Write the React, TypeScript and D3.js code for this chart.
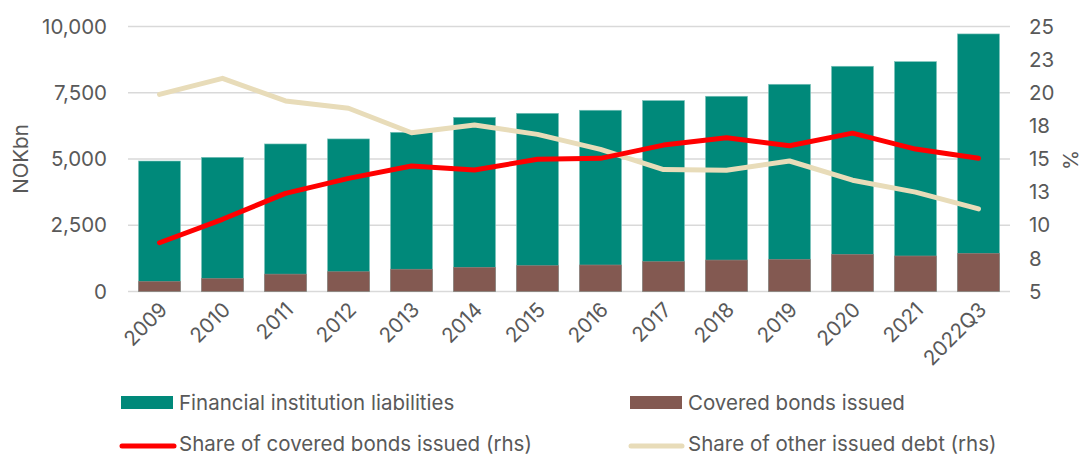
import React from "react";
import * as d3 from "d3";

const categories = ["2009","2010","2011","2012","2013","2014","2015","2016","2017","2018","2019","2020","2021","2022Q3"];
const liabilities = [4924,5064,5568,5758,6008,6574,6725,6840,7205,7368,7820,8500,8675,9720];
const coveredBonds = [380,492,655,746,840,913,974,1000,1125,1186,1212,1402,1340,1441];
const shareCovered = [8.68,10.45,12.41,13.54,14.47,14.17,14.98,15.05,16.05,16.6,16.0,16.95,15.75,15.05];
const shareOther = [19.88,21.09,19.38,18.83,16.98,17.57,16.86,15.73,14.2,14.15,14.85,13.4,12.5,11.23];
const leftTicks = [0,2500,5000,7500,10000];
const rightTicks = [5,7.5,10,12.5,15,17.5,20,22.5,25];
const rightTickLabels = ["5","8","10","13","15","18","20","23","25"];

const W = 1084, H = 455;
const X0 = 128, X1 = 1010, YT = 26.5, YB = 291.5;
const FONT = "Inter, 'Noto Sans', sans-serif";
const TXT = "#595959";
const FS = 20.5;

export default function App() {
  const x = d3.scaleBand<string>().domain(categories).range([X0, X1]).paddingInner(0.333).paddingOuter(0.1665);
  const yL = d3.scaleLinear().domain([0, 10000]).range([YB, YT]);
  const yR = d3.scaleLinear().domain([5, 25]).range([YB, YT]);
  const cx = (c: string) => (x(c) as number) + x.bandwidth() / 2;
  const line = d3.line<number>().x((_, i) => cx(categories[i])).y((d) => yR(d));
  const fmt = d3.format(",");
  return (
    <svg width={W} height={H} style={{ position: "absolute", left: 0, top: 0 }} fontFamily={FONT}>
      <rect width={W} height={H} fill="#fff" />
      {leftTicks.map((t) => (
        <line key={t} x1={X0} x2={X1} y1={yL(t)} y2={yL(t)} stroke="#D9D9D9" strokeWidth={1.5} />
      ))}
      {categories.map((c, i) => (
        <g key={c}>
          <rect x={x(c)} y={yL(liabilities[i])} width={x.bandwidth()} height={yL(0) - yL(liabilities[i])} fill="#00897A" stroke="#7FC4BC" strokeWidth={0.6} />
          <rect x={x(c)} y={yL(coveredBonds[i])} width={x.bandwidth()} height={yL(0) - yL(coveredBonds[i])} fill="#835951" stroke="#9C8581" strokeWidth={0.6} />
        </g>
      ))}
      <path d={line(shareOther) as string} fill="none" stroke="#E8DCB9" strokeWidth={5} strokeLinecap="round" strokeLinejoin="round" />
      <path d={line(shareCovered) as string} fill="none" stroke="#FF0000" strokeWidth={5} strokeLinecap="round" strokeLinejoin="round" />
      {leftTicks.map((t) => (
        <text key={t} x={107} y={yL(t)} dy="0.35em" textAnchor="end" fontSize={FS} fill={TXT}>{fmt(t)}</text>
      ))}
      {rightTicks.map((t, i) => (
        <text key={t} x={1029} y={yR(t)} dy="0.35em" textAnchor="start" fontSize={FS} fill={TXT}>{rightTickLabels[i]}</text>
      ))}
      <text transform={`translate(21,159) rotate(-90)`} textAnchor="middle" dy="0.35em" fontSize={FS} fill={TXT}>NOKbn</text>
      <text transform={`translate(1071,160) rotate(-90)`} textAnchor="middle" dy="0.35em" fontSize={FS} fill={TXT}>%</text>
      {categories.map((c) => (
        <text key={c} transform={`translate(${cx(c) + 4},${306}) rotate(-45)`} textAnchor="end" dy="0.35em" fontSize={FS} fill={TXT}>{c}</text>
      ))}
      <rect x={121} y={396} width={52} height={13} fill="#00897A" />
      <text x={179} y={402.5} dy="0.35em" fontSize={FS} fill={TXT}>Financial institution liabilities</text>
      <rect x={630} y={396} width={52} height={13} fill="#835951" />
      <text x={688} y={402.5} dy="0.35em" fontSize={FS} fill={TXT}>Covered bonds issued</text>
      <line x1={122} x2={174} y1={446} y2={446} stroke="#FF0000" strokeWidth={5} strokeLinecap="round" />
      <text x={179} y={444} dy="0.35em" fontSize={FS} fill={TXT}>Share of covered bonds issued (rhs)</text>
      <line x1={631} x2={682} y1={446} y2={446} stroke="#E8DCB9" strokeWidth={5} strokeLinecap="round" />
      <text x={688} y={444} dy="0.35em" fontSize={FS} fill={TXT}>Share of other issued debt (rhs)</text>
    </svg>
  );
}
